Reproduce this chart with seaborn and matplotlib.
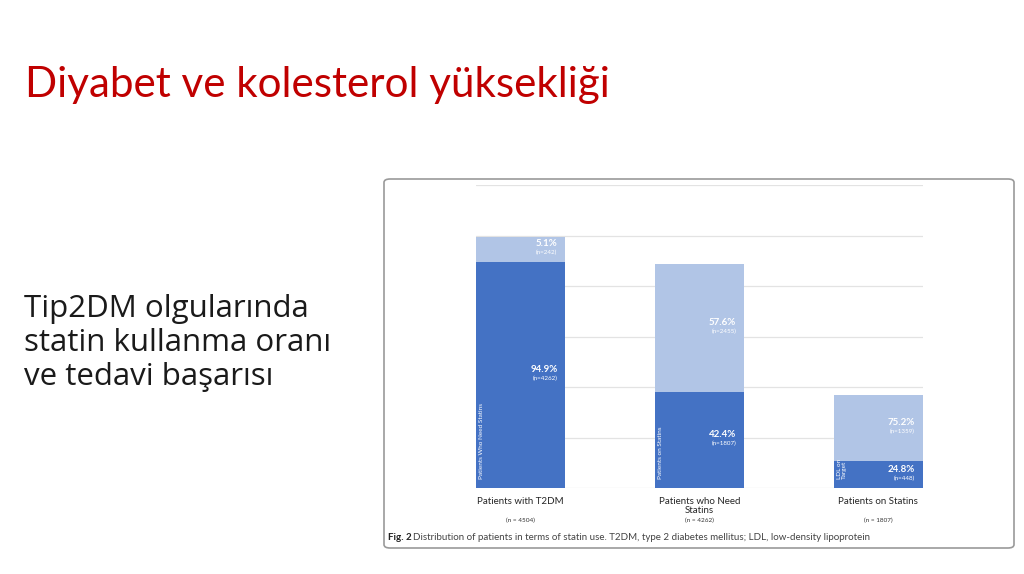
import matplotlib
matplotlib.use("Agg")
import matplotlib.pyplot as plt
import matplotlib.transforms as mtransforms
from matplotlib.patches import FancyBboxPatch
import seaborn as sns
import pandas as pd

# --------------------------
# DATA (bar heights, in gridline units)
# --------------------------
categories = ["Patients with T2DM", "Patients who Need\nStatins", "Patients on Statins"]
group_n = ["(n = 4504)", "(n = 4262)", "(n = 1807)"]
dark_height = [4.48, 1.91, 0.53]
light_height = [0.50, 2.53, 1.31]
n_dark = [4262, 1807, 448]
n_light = [242, 2455, 1359]
pct_dark = ["94.9%", "42.4%", "24.8%"]
pct_light = ["5.1%", "57.6%", "75.2%"]
dark_labels = ["Patients Who Need Statins", "Patients on Statins", "LDL on\nTarget"]

df = pd.DataFrame({
    "category": categories,
    "dark": dark_height,
    "total": [d + l for d, l in zip(dark_height, light_height)],
})

DARK = "#4472C4"
LIGHT = "#B1C5E6"
TITLE_RED = "#C00000"

sns.set_style("white")
plt.rcParams["font.family"] = ["Lato", "DejaVu Sans"]

fig = plt.figure(figsize=(10.24, 5.74), dpi=100)
W, H = 1024, 574

# slide title and side text
fig.text(25 / W, 1 - 97 / H, "Diyabet ve kolesterol yüksekliği", fontsize=30.3,
         color=TITLE_RED, va="baseline", ha="left")
fig.text(24 / W, 1 - 294 / H,
         "Tip2DM olgularında\nstatin kullanma oranı\nve tedavi başarısı",
         fontsize=22.5, color="#1a1a1a", va="top", family=["Open Sans", "DejaVu Sans"],
         ha="left", linespacing=1.17)

# embedded figure frame
frame = FancyBboxPatch((384 / W, 1 - 548 / H), 630 / W, 369 / H,
                       boxstyle="round,pad=0,rounding_size=0.006",
                       transform=fig.transFigure, facecolor="white",
                       edgecolor="#9a9a9a", linewidth=1.2, zorder=-1)
fig.patches.append(frame)

# --------------------------
# STACKED BAR CHART
# --------------------------
ax = fig.add_axes([476 / W, 1 - 488 / H, 447 / W, 303 / H])
ax.set_zorder(2)
sns.barplot(data=df, x="category", y="total", color=LIGHT, width=0.5,
            saturation=1, linewidth=0, edgecolor="none", ax=ax, zorder=2)
sns.barplot(data=df, x="category", y="dark", color=DARK, width=0.5,
            saturation=1, linewidth=0, edgecolor="none", ax=ax, zorder=3)

ax.set_xlim(-0.25, 2.25)
ax.set_ylim(0, 6)
ax.set_yticks(range(0, 7))
ax.yaxis.grid(True, color="#e3e3e3", linewidth=0.9, zorder=0)
ax.set_axisbelow(True)
for s in ax.spines.values():
    s.set_visible(False)
ax.set_xticks([])
ax.set_yticklabels([])
ax.tick_params(left=False, bottom=False)
ax.set_xlabel("")
ax.set_ylabel("")
ax.patch.set_alpha(0)

# value labels inside segments
pct_off = mtransforms.offset_copy(ax.transData, fig=fig, x=-8, y=1, units="dots")
n_off = mtransforms.offset_copy(ax.transData, fig=fig, x=-8, y=-1, units="dots")
for i in range(len(categories)):
    segs = [(dark_height[i] / 2, pct_dark[i], n_dark[i]),
            (dark_height[i] + light_height[i] / 2, pct_light[i], n_light[i])]
    for ymid, pct, n in segs:
        ax.text(i + 0.25, ymid, pct, transform=pct_off, ha="right",
                va="bottom", fontsize=7, fontweight="bold", color="white", zorder=5)
        ax.text(i + 0.25, ymid, f"(n={n})", transform=n_off, ha="right",
                va="top", fontsize=4.5, color="white", zorder=5)

# rotated labels on the dark segments
left_off = mtransforms.offset_copy(ax.transData, fig=fig, x=3, y=9, units="dots")
for i, lab in enumerate(dark_labels):
    ax.text(i - 0.25, 0, lab, transform=left_off, rotation=90, ha="left",
            va="bottom", fontsize=4.6, color="white", linespacing=1.0, zorder=5)

# category names and group sizes below bars
btrans = mtransforms.blended_transform_factory(ax.transData, ax.transAxes)
for i, (cat, n) in enumerate(zip(categories, group_n)):
    ax.text(i, -0.03, cat, transform=btrans, ha="center", va="top",
            fontsize=7, color="#262626", linespacing=1.0)
    ax.text(i, -0.108, n, transform=btrans, ha="center", va="center",
            fontsize=4.6, color="#333333")

# caption
fig.text(388 / W, 1 - 537 / H, "Fig. 2", fontsize=7, fontweight="bold",
         color="#222222", va="center", ha="left")
fig.text(413 / W, 1 - 537 / H,
         "Distribution of patients in terms of statin use. T2DM, type 2 diabetes "
         "mellitus; LDL, low-density lipoprotein",
         fontsize=7, color="#444444", va="center", ha="left")

fig.savefig("out.png", dpi=100)
